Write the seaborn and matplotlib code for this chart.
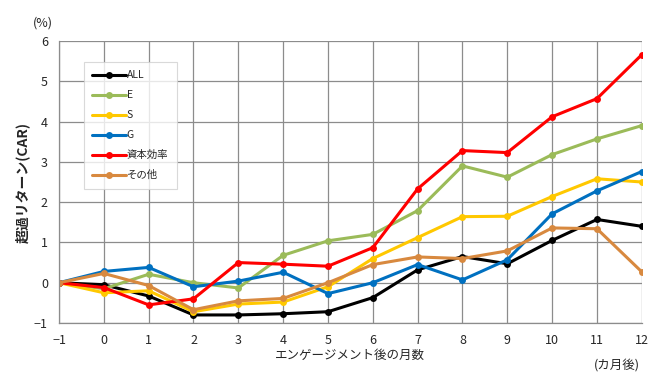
import numpy as np
import pandas as pd
import seaborn as sns
import matplotlib.pyplot as plt

months = list(range(-1, 13))
series_names = ['ALL', 'E', 'S', 'G', '資本効率', 'その他']
car_all = [0, -0.05, -0.33, -0.80, -0.80, -0.77, -0.72, -0.37, 0.32, 0.65, 0.47, 1.05, 1.57, 1.40]
car_e = [0, -0.15, 0.21, 0.00, -0.13, 0.68, 1.04, 1.20, 1.79, 2.90, 2.62, 3.18, 3.57, 3.90]
car_s = [0, -0.25, -0.20, -0.72, -0.53, -0.48, -0.10, 0.60, 1.12, 1.64, 1.65, 2.14, 2.58, 2.50]
car_g = [0, 0.28, 0.38, -0.10, 0.04, 0.26, -0.27, 0.00, 0.45, 0.07, 0.57, 1.71, 2.28, 2.76]
car_cap = [0, -0.12, -0.55, -0.40, 0.50, 0.46, 0.41, 0.87, 2.33, 3.28, 3.23, 4.12, 4.57, 5.66]
car_other = [0, 0.23, -0.07, -0.67, -0.45, -0.39, 0.00, 0.45, 0.64, 0.60, 0.79, 1.36, 1.34, 0.27]

colors = ['#000000', '#9BBB59', '#FFC800', '#0070C0', '#FF0000', '#D8893F']

rows = []
for name, vals in zip(series_names, [car_all, car_e, car_s, car_g, car_cap, car_other]):
    for m, v in zip(months, vals):
        rows.append({'month': m, 'car': v, 'series': name})
df = pd.DataFrame(rows)

sns.set_style('white')
plt.rcParams['font.family'] = ['Noto Sans CJK JP', 'DejaVu Sans']

fig = plt.figure(figsize=(6.63, 3.78), dpi=100)
ax = fig.add_axes([0.089, 0.1455, 0.879, 0.746])

sns.lineplot(data=df, x='month', y='car', hue='series', hue_order=series_names,
             palette=colors, marker='o', markersize=5, markeredgewidth=0,
             linewidth=2.2, ax=ax, legend=False)

ax.set_xlim(-1, 12)
ax.set_ylim(-1, 6)
ax.set_xticks(months)
ax.set_yticks(range(-1, 7))
ax.grid(True, color='#8C8C8C', linewidth=0.9)
ax.set_axisbelow(True)
for s in ['top', 'right']:
    ax.spines[s].set_visible(False)
for s in ['left', 'bottom']:
    ax.spines[s].set_color('#8C8C8C')
    ax.spines[s].set_linewidth(0.9)
ax.tick_params(axis='both', labelsize=9, length=0, pad=8)

ax.set_xlabel('エンゲージメント後の月数', fontsize=9, labelpad=1)
ax.set_ylabel('超過リターン(CAR)', fontsize=10, fontweight='bold', labelpad=3)
fig.text(0.064, 0.94, '(%)', fontsize=9, ha='center', va='center')
fig.text(0.93, 0.035, '(カ月後)', fontsize=9, ha='center', va='center')

handles = ax.get_lines()[:len(series_names)]
leg = ax.legend(handles, series_names, loc='upper left', bbox_to_anchor=(0.043, 0.925),
                fontsize=7.5, frameon=True, fancybox=False, handlelength=3.2,
                labelspacing=0.95, borderpad=0.8, handletextpad=0.1,
                borderaxespad=0)
leg.get_frame().set_edgecolor('#D0D0D0')
leg.get_frame().set_linewidth(0.8)

fig.savefig('out.png', dpi=100)
